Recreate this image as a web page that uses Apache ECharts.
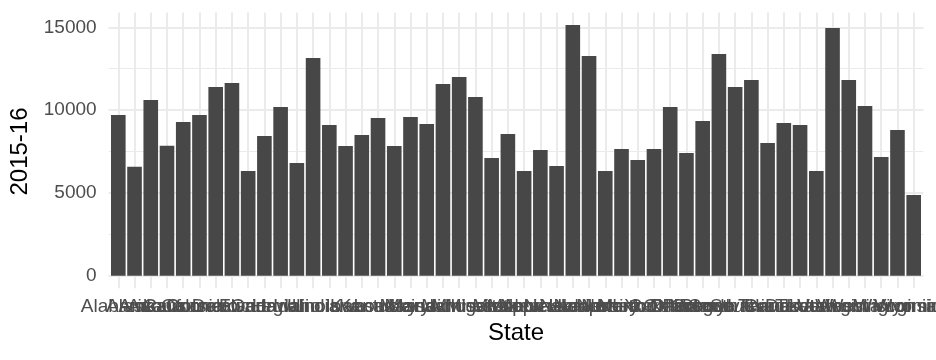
<!DOCTYPE html>
<html>
<head>
<meta charset="utf-8">
<script src="https://cdn.jsdelivr.net/npm/echarts@6/dist/echarts.min.js"></script>
<style>html,body{margin:0;padding:0;background:#fff;}#c{width:936px;height:360px;}</style>
</head>
<body>
<div id="c"></div>
<script>
const states = ["Alabama","Alaska","Arizona","Arkansas","California","Colorado","Connecticut","Delaware","Florida","Georgia","Hawaii","Idaho","Illinois","Indiana","Iowa","Kansas","Kentucky","Louisiana","Maine","Maryland","Massachusetts","Michigan","Minnesota","Mississippi","Missouri","Montana","Nebraska","Nevada","New Hampshire","New Jersey","New Mexico","New York","North Carolina","North Dakota","Ohio","Oklahoma","Oregon","Pennsylvania","Rhode Island","South Carolina","South Dakota","Tennessee","Texas","Utah","Vermont","Virginia","Washington","West Virginia","Wisconsin","Wyoming"];
const tuition = [9700,6580,10610,7850,9280,9700,11400,11640,6320,8440,10190,6810,13150,9100,7830,8500,9520,7830,9580,9160,11580,12000,10790,7110,8560,6320,7590,6620,15140,13270,6320,7650,6990,7650,10190,7410,9340,13390,11400,11820,8010,9220,9100,6320,14960,11820,10250,7170,8800,4870];
const yTicks = [0,5000,10000,15000];

const font = 'Liberation Sans, Arial, Helvetica, sans-serif';
const grid = '#ebebeb';
const chart = echarts.init(document.getElementById('c'), null, {renderer:'canvas'});
chart.setOption({
  animation:false,
  backgroundColor:'#ffffff',
  grid:[
    {left:118.3, top:12.5, width:795.4, height:275.7, outerBoundsMode:'none', containLabel:false},
    {left:108.6, top:27.3, width:814.8, height:248.4, outerBoundsMode:'none', containLabel:false},
    {left:118.3, top:27.3, width:795.4, height:248.4, outerBoundsMode:'none', containLabel:false}
  ],
  xAxis:[
    {gridIndex:0, type:'category', data:states, boundaryGap:false,
     axisLine:{show:false}, axisTick:{show:false},
     axisLabel:{interval:0, hideOverlap:false, fontFamily:font, fontSize:19, color:'#4d4d4d', margin:9},
     splitLine:{show:true, interval:0, lineStyle:{color:grid, width:2}},
     name:'State', nameLocation:'middle', nameGap:32,
     nameTextStyle:{fontFamily:font, fontSize:24, color:'#000'}},
    {gridIndex:1, type:'category', data:states, show:false},
    {gridIndex:2, type:'category', data:states, boundaryGap:false, show:false}
  ],
  yAxis:[
    {gridIndex:0, type:'value', min:0, max:1, show:false},
    {gridIndex:1, type:'value', min:yTicks[0], max:yTicks[yTicks.length-1], interval:5000,
     axisLine:{show:false}, axisTick:{show:false},
     axisLabel:{fontFamily:font, fontSize:19, color:'#4d4d4d', margin:12, formatter:(v)=>String(v)},
     splitLine:{show:true, lineStyle:{color:grid, width:2}},
     minorTick:{show:false, splitNumber:2},
     minorSplitLine:{show:true, lineStyle:{color:grid, width:1}},
     name:'2015-16', nameLocation:'middle', nameGap:75,
     nameTextStyle:{fontFamily:font, fontSize:24, color:'#000'}},
    {gridIndex:2, type:'value', min:yTicks[0], max:yTicks[yTicks.length-1], show:false}
  ],
  series:[{
    type:'bar', xAxisIndex:2, yAxisIndex:2, data:tuition,
    barWidth:'90%', clip:false,
    itemStyle:{color:'#474747'}
  }]
});
</script>
</body>
</html>
